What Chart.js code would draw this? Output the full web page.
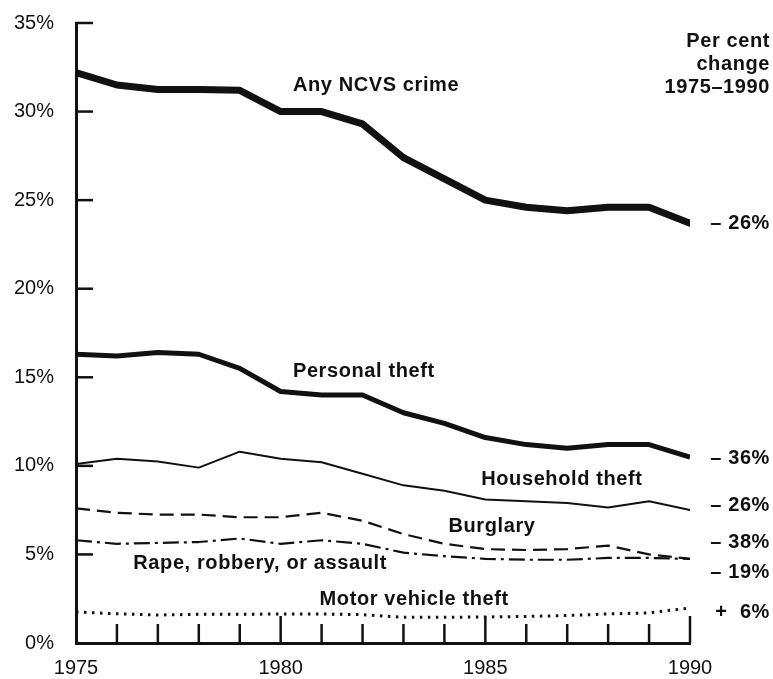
<!DOCTYPE html>
<html lang="en">
<head>
    <meta charset="UTF-8">
    <title>NCVS crime trends 1975-1990</title>
    <script src="https://cdn.jsdelivr.net/npm/chart.js"></script>
    <style>
        html, body { margin: 0; padding: 0; background: #fff; }
        #wrap { width: 773px; height: 679px; }
    </style>
</head>
<body>
    <div id="wrap"><canvas id="crimeChart" width="773" height="679"></canvas></div>
    <script>
        const years = [1975, 1976, 1977, 1978, 1979, 1980, 1981, 1982, 1983, 1984, 1985, 1986, 1987, 1988, 1989, 1990];
        const yTicks = [0, 5, 10, 15, 20, 25, 30, 35];
        const xLabelYears = [1975, 1980, 1985, 1990];

        const anyCrime       = [32.2, 31.5, 31.25, 31.25, 31.2, 30.0, 30.0, 29.3, 27.4, 26.2, 25.0, 24.6, 24.4, 24.6, 24.6, 23.7];
        const personalTheft  = [16.3, 16.2, 16.4, 16.3, 15.5, 14.2, 14.0, 14.0, 13.0, 12.4, 11.6, 11.2, 11.0, 11.2, 11.2, 10.5];
        const householdTheft = [10.1, 10.4, 10.25, 9.9, 10.8, 10.4, 10.2, 9.55, 8.9, 8.6, 8.1, 8.0, 7.9, 7.65, 8.0, 7.5];
        const burglary       = [7.6, 7.35, 7.25, 7.25, 7.1, 7.1, 7.35, 6.9, 6.15, 5.6, 5.3, 5.25, 5.3, 5.5, 5.0, 4.75];
        const violentCrime   = [5.8, 5.6, 5.65, 5.7, 5.9, 5.6, 5.8, 5.6, 5.1, 4.9, 4.75, 4.7, 4.7, 4.8, 4.8, 4.75];
        const motorVehicle   = [1.75, 1.65, 1.58, 1.62, 1.62, 1.64, 1.64, 1.6, 1.45, 1.45, 1.47, 1.5, 1.55, 1.64, 1.7, 1.98];

        const changeLabels = ['\u2013 26%', '\u2013 36%', '\u2013 26%', '\u2013 38%', '\u2013 19%', '+  6%'];

        const toPoints = (vals) => vals.map((v, i) => ({ x: years[i], y: v }));

        // series label placement (year, percent)
        const seriesLabels = [
            { text: 'Any NCVS crime', x: 1980.3, y: 31.5 },
            { text: 'Personal theft', x: 1980.3, y: 15.3 },
            { text: 'Household theft', x: 1984.9, y: 9.24 },
            { text: 'Burglary', x: 1984.1, y: 6.6 },
            { text: 'Rape, robbery, or assault', x: 1976.4, y: 4.47 },
            { text: 'Motor vehicle theft', x: 1980.95, y: 2.43 }
        ];
        // y position of right-hand change labels, in percent
        const changeLabelY = [23.7, 10.4, 7.74, 5.65, 4.0, 1.75];

        const BLACK = '#111';
        const BOLD = 'bold 20px "Liberation Sans", Arial, sans-serif';

        const innerTicks = {
            id: 'innerTicks',
            beforeDatasetsDraw(chart) {
                const { ctx, chartArea, scales } = chart;
                ctx.save();
                ctx.strokeStyle = BLACK;
                ctx.lineWidth = 2.5;
                yTicks.forEach(v => {
                    if (v === 0) return;
                    const py = scales.y.getPixelForValue(v);
                    ctx.beginPath();
                    ctx.moveTo(chartArea.left, py);
                    ctx.lineTo(chartArea.left + 17, py);
                    ctx.stroke();
                });
                years.forEach(yr => {
                    if (yr === years[0]) return;
                    const px = scales.x.getPixelForValue(yr);
                    const len = yr % 5 === 0 ? 27 : 19;
                    ctx.beginPath();
                    ctx.moveTo(px, chartArea.bottom);
                    ctx.lineTo(px, chartArea.bottom - len);
                    ctx.stroke();
                });
                ctx.restore();
            }
        };

        const textLabels = {
            id: 'textLabels',
            afterDraw(chart) {
                const { ctx, chartArea, scales } = chart;
                ctx.save();
                ctx.fillStyle = BLACK;
                ctx.font = BOLD;
                ctx.letterSpacing = '0.6px';
                ctx.textBaseline = 'middle';
                ctx.textAlign = 'left';
                seriesLabels.forEach(l => {
                    ctx.fillText(l.text, scales.x.getPixelForValue(l.x), scales.y.getPixelForValue(l.y));
                });
                ctx.textAlign = 'right';
                const rx = chartArea.right + 80;
                ['Per cent', 'change', '1975\u20131990'].forEach((t, i) => {
                    ctx.fillText(t, rx, 41 + i * 23);
                });
                changeLabels.forEach((t, i) => {
                    ctx.fillText(t, rx, scales.y.getPixelForValue(changeLabelY[i]));
                });
                ctx.restore();
            }
        };

        const base = { borderColor: BLACK, pointRadius: 0, tension: 0, fill: false, borderJoinStyle: 'round' };

        // hidden grid: only used to reserve the gap between axis and tick labels
        const hiddenGrid = (len) => ({ display: true, drawOnChartArea: false, drawTicks: true, tickLength: len, tickColor: 'rgba(0,0,0,0)', color: 'rgba(0,0,0,0)' });

        const ctx = document.getElementById('crimeChart').getContext('2d');
        const crimeChart = new Chart(ctx, {
            type: 'line',
            data: {
                datasets: [
                    { ...base, label: 'Any NCVS crime', data: toPoints(anyCrime), borderWidth: 7, borderCapStyle: 'round' },
                    { ...base, label: 'Personal theft', data: toPoints(personalTheft), borderWidth: 5 },
                    { ...base, label: 'Household theft', data: toPoints(householdTheft), borderWidth: 2 },
                    { ...base, label: 'Burglary', data: toPoints(burglary), borderWidth: 2.2, borderDash: [14, 7] },
                    { ...base, label: 'Rape, robbery, or assault', data: toPoints(violentCrime), borderWidth: 2.2, borderDash: [16, 5, 3, 5] },
                    { ...base, label: 'Motor vehicle theft', data: toPoints(motorVehicle), borderWidth: 3, borderDash: [2.5, 5.5] }
                ]
            },
            plugins: [innerTicks, textLabels],
            options: {
                responsive: false,
                animation: false,
                layout: { padding: { top: 23, right: 83, left: 0, bottom: 0 } },
                plugins: {
                    legend: { display: false },
                    tooltip: { enabled: false }
                },
                scales: {
                    x: {
                        type: 'linear',
                        min: 1975,
                        max: 1990,
                        afterFit: (scale) => { scale.height = 36; },
                        afterBuildTicks: (scale) => { scale.ticks = xLabelYears.map(v => ({ value: v })); },
                        grid: hiddenGrid(13),
                        border: { display: true, color: BLACK, width: 3 },
                        ticks: {
                            color: BLACK,
                            padding: 0,
                            maxRotation: 0,
                            autoSkip: false,
                            font: { family: '"Liberation Sans", Arial, sans-serif', size: 20 },
                            callback: (v) => String(v)
                        }
                    },
                    y: {
                        min: 0,
                        max: 35,
                        afterFit: (scale) => { scale.width = 76; },
                        afterBuildTicks: (scale) => { scale.ticks = yTicks.map(v => ({ value: v })); },
                        grid: hiddenGrid(22),
                        border: { display: true, color: BLACK, width: 3 },
                        ticks: {
                            color: BLACK,
                            padding: 0,
                            font: { family: '"Liberation Sans", Arial, sans-serif', size: 20 },
                            callback: (v) => v + '%'
                        }
                    }
                }
            }
        });
    </script>
</body>
</html>
